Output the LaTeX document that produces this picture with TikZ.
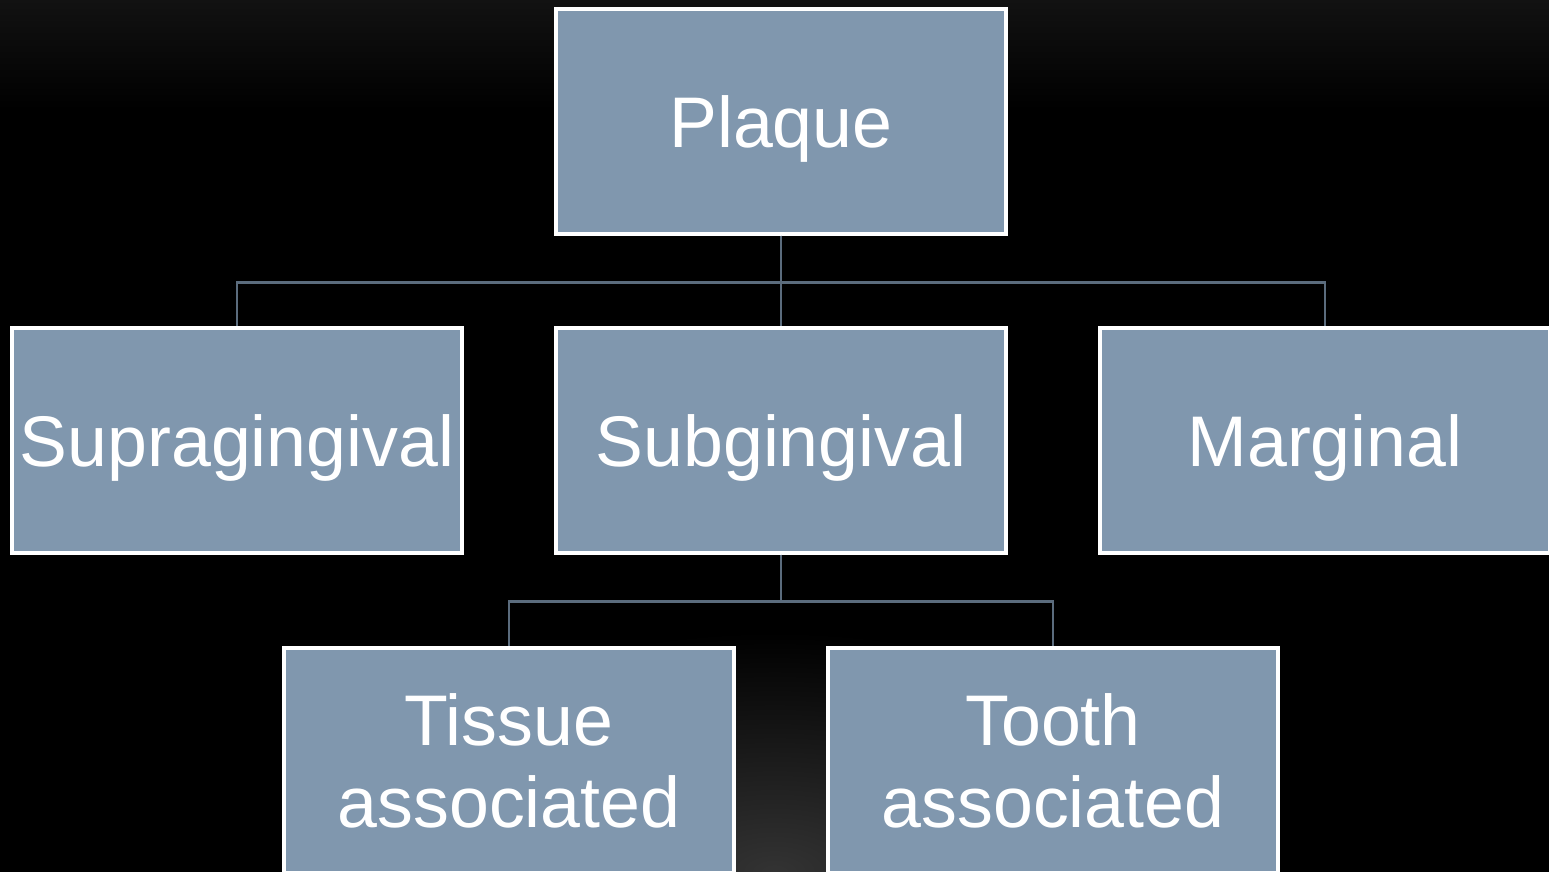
\documentclass[tikz,border=0pt]{standalone}
\usepackage{fontspec}
\setmainfont{Liberation Sans}
\usetikzlibrary{trees}

\definecolor{boxfill}{HTML}{8097AE}
\definecolor{linkline}{HTML}{5B6C7D}

\begin{document}
\begin{tikzpicture}[
    every node/.style={rectangle, draw=white, line width=0.9pt, fill=boxfill,
        text=white, align=center, minimum width=4.5cm, minimum height=2.25cm,
        inner sep=0pt, font=\fontsize{20.4}{23.3}\selectfont},
    oneline/.style={text depth=0pt},
    edge from parent/.style={draw=linkline, line width=0.75pt},
    edge from parent path={(\tikzparentnode.south) -- +(0,-0.47) -| (\tikzchildnode.north)},
    level 1/.style={sibling distance=54.4mm, level distance=31.9mm},
    level 2/.style={sibling distance=54.4mm, level distance=32mm}
]

% background
\useasboundingbox (0,0) rectangle (15.49,-8.72);
\begin{scope}
\clip (0,0) rectangle (15.49,-8.72);
\fill[black] (0,0) rectangle (15.49,-8.72);
\shade[top color=black!93, bottom color=black] (0,0) rectangle (15.49,-1.1);
\shade[inner color=black!80, outer color=black] (7.745,-8.72) ellipse (4.5 and 2.4);
\end{scope}

\node[oneline] (plaque) at (7.81,-1.215) {Plaque}
    child { node[oneline] (supra) {Supragingival} }
    child { node[oneline] (sub) {Subgingival}
        child { node (tissue) {Tissue\\associated} }
        child { node (tooth) {Tooth\\associated} }
    }
    child { node[oneline] (marginal) {Marginal} };

\end{tikzpicture}
\end{document}
